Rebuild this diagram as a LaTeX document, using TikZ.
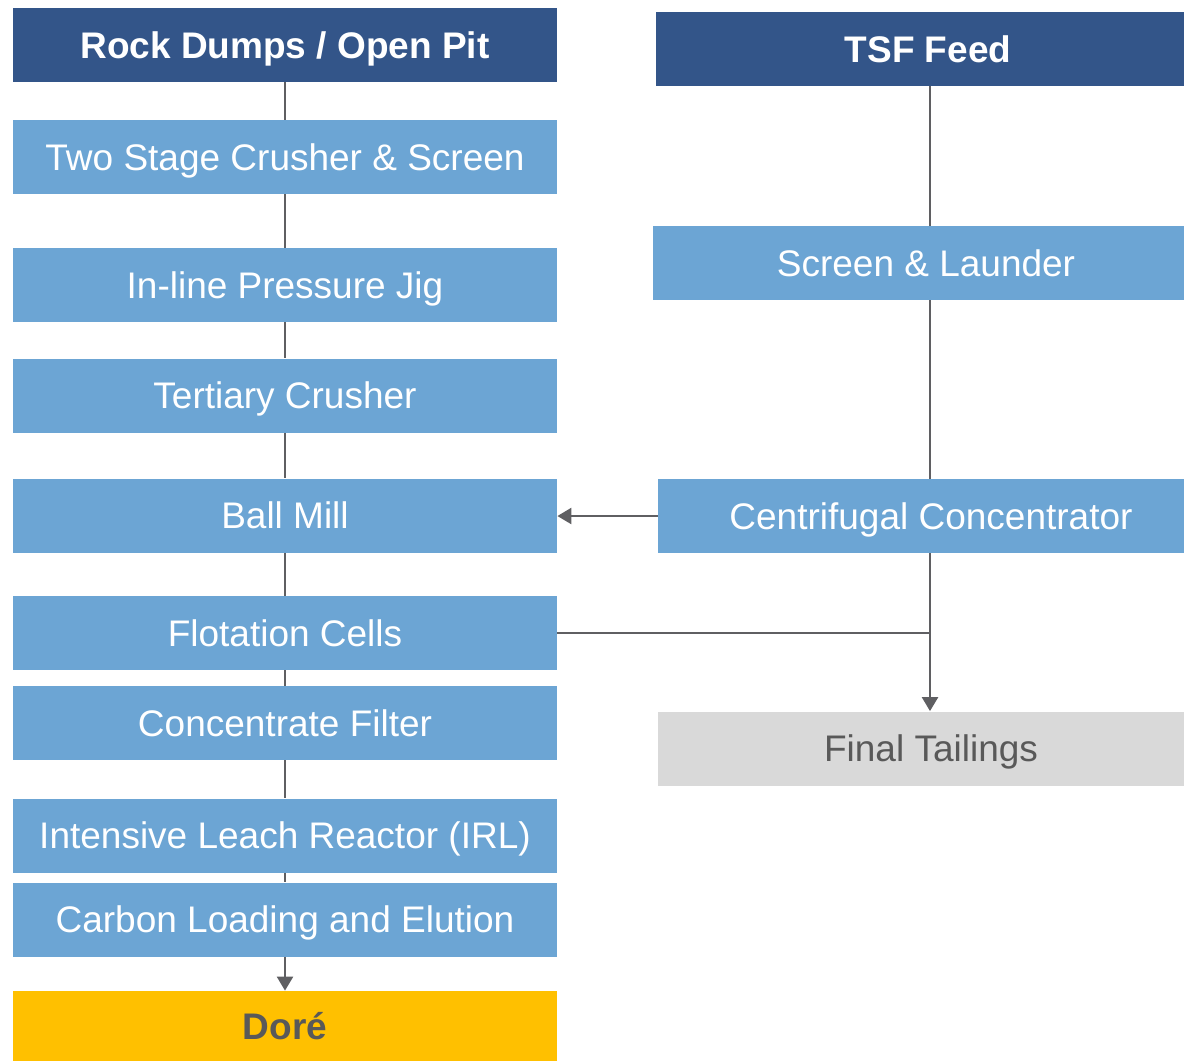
\documentclass[tikz,border=0pt]{standalone}
\usepackage{fontspec}
\setmainfont{Liberation Sans}
\usetikzlibrary{arrows.meta, positioning, calc}
\definecolor{darkbox}{RGB}{51,85,137}
\definecolor{lightbox}{RGB}{108,165,212}
\definecolor{gold}{RGB}{255,192,0}
\definecolor{greybox}{RGB}{217,217,217}
\definecolor{greytext}{RGB}{89,89,89}
\definecolor{linegrey}{RGB}{95,95,98}

\begin{document}
\begin{tikzpicture}[x=0.5pt, y=-0.5pt,
  box/.style={fill=lightbox, text=white, minimum width=272pt, minimum height=37pt, inner sep=0pt,
    text height=13.2pt, text depth=0pt, font=\fontsize{18.5pt}{22pt}\selectfont},
  head/.style={box, fill=darkbox, font=\fontsize{18.5pt}{22pt}\selectfont\bfseries},
  link/.style={draw=linegrey, line width=1.2pt},
  flow/.style={link, -{Triangle[length=7pt,width=8pt]}}]
\useasboundingbox (0,0) rectangle (1184,1061);
\clip (0,0) rectangle (1184,1061);

% Left column: ore route
\node[head] (rock) at (285,45) {Rock Dumps / Open Pit};
\node[box] (crush) at (285,157) {Two Stage Crusher \& Screen};
\node[box] (jig) at (285,285) {In-line Pressure Jig};
\node[box] (tert) at (285,395.5) {Tertiary Crusher};
\node[box] (ball) at (285,515.5) {Ball Mill};
\node[box] (flot) at (285,633) {Flotation Cells};
\node[box] (filt) at (285,723) {Concentrate Filter};
\node[box] (irl) at (285,835.5) {Intensive Leach Reactor (IRL)};
\node[box] (carbon) at (285,919.5) {Carbon Loading and Elution};
\node[box, fill=gold, text=greytext, minimum height=35pt, font=\fontsize{18.5pt}{22pt}\selectfont\bfseries] (dore) at (285,1026) {Doré};

% Right column: tailings route (boxes run off the right edge)
\node[head] (tsf) at (928,49) {TSF Feed};
\node[box, minimum width=273pt] (screen) at (926,263) {Screen \& Launder};
\node[box, minimum width=273pt] (centri) at (931,516) {Centrifugal Concentrator};
\node[box, minimum width=273pt, fill=greybox, text=greytext] (tail) at (931,748.5) {Final Tailings};
\coordinate (trunk) at (930,0);

% Connectors
\foreach \a/\b in {rock/crush, crush/jig, jig/tert, tert/ball, ball/flot, flot/filt, filt/irl, irl/carbon} {
    \draw[link] (\a) -- (\b);
}
\draw[flow] (carbon) -- (dore);

\draw[link] (tsf.south -| trunk) -- (screen.north -| trunk);
\draw[link] (screen.south -| trunk) -- (centri.north -| trunk);
\draw[flow] (centri.west) -- (centri.west -| ball.east);
\draw[flow] (centri.south -| trunk) -- (tail.north -| trunk);
\draw[link] (flot.east) -- (flot.east -| trunk);
\end{tikzpicture}
\end{document}
